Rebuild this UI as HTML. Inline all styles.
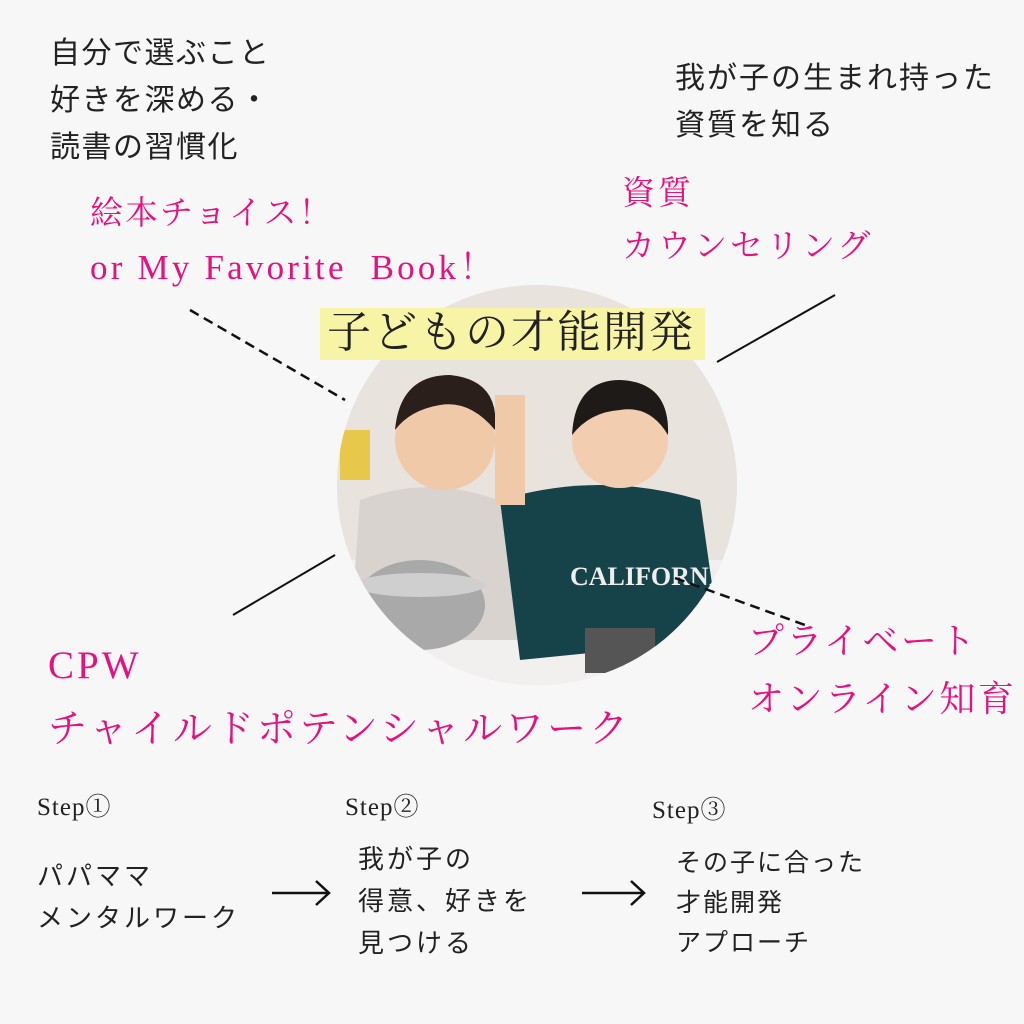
<!DOCTYPE html>
<html><head><meta charset="utf-8"><style>
body{margin:0;width:1024px;height:1024px;background:#f7f7f7;position:relative;overflow:hidden;font-family:"Liberation Sans","Noto Sans CJK JP",sans-serif;color:#222}
.t{position:absolute;white-space:nowrap}
.k{font-size:30px;line-height:47px;color:#222;letter-spacing:1.5px}
.p{color:#e4117f;font-family:"Liberation Serif","Noto Serif CJK SC",serif;font-size:33px;line-height:53px;letter-spacing:2px}
.s{font-family:"Liberation Serif","Noto Serif CJK SC",serif;font-size:25px;color:#222;letter-spacing:1px}
.b{font-size:26px;line-height:42px;color:#222;letter-spacing:3px}
</style></head><body>
<svg width="1024" height="1024" style="position:absolute;left:0;top:0">
<defs><clipPath id="c"><circle cx="537" cy="485" r="200"/></clipPath></defs>
<circle cx="537" cy="485" r="200" fill="#ebe6e0"/>
<g clip-path="url(#c)">
<rect x="330" y="280" width="420" height="420" fill="#e8e3dc"/>
<rect x="330" y="560" width="420" height="140" fill="#f2f0ee"/>
<path d="M360 500 Q440 470 520 510 L530 640 L350 640Z" fill="#d9d3cf"/>
<circle cx="445" cy="440" r="50" fill="#f0c9a8"/>
<path d="M395 430 Q400 375 450 375 Q500 380 495 430 Q470 400 440 405 Q410 410 395 430Z" fill="#2a1f1a"/>
<path d="M500 500 Q600 470 700 500 L720 640 L520 660Z" fill="#16424a"/>
<circle cx="620" cy="440" r="48" fill="#f2cdb0"/>
<path d="M572 435 Q575 380 620 380 Q670 382 668 435 Q650 405 620 410 Q590 412 572 435Z" fill="#1e1a18"/>
<rect x="495" y="395" width="30" height="110" fill="#f0c9a8"/>
<ellipse cx="420" cy="605" rx="65" ry="45" fill="#a9a9a9"/>
<ellipse cx="420" cy="585" rx="65" ry="12" fill="#cfcfcf"/>
<rect x="585" y="628" width="70" height="45" fill="#555"/>
<rect x="340" y="430" width="30" height="50" fill="#e8c84a"/>
<text x="570" y="585" font-family="Liberation Serif" font-size="26" fill="#eee" font-weight="bold">CALIFORNIA</text>
</g>
<line x1="190" y1="310" x2="345" y2="400" stroke="#111" stroke-width="2.5" stroke-dasharray="10,6"/>
<line x1="717" y1="362" x2="835" y2="295" stroke="#111" stroke-width="2"/>
<line x1="233" y1="615" x2="335" y2="555" stroke="#111" stroke-width="2"/>
<line x1="675" y1="578" x2="805" y2="625" stroke="#111" stroke-width="2.5" stroke-dasharray="10,6"/>
<g stroke="#111" stroke-width="2.5" fill="none">
<line x1="272" y1="893" x2="328" y2="893"/><polyline points="316,881 329,893 316,905"/>
<line x1="582" y1="893" x2="643" y2="893"/><polyline points="631,881 644,893 631,905"/>
</g>
</svg>
<div class="t k" style="left:50px;top:30px">自分で選ぶこと<br>好きを深める・<br>読書の習慣化</div>
<div class="t k" style="left:675px;top:55px;letter-spacing:2px">我が子の生まれ持った<br>資質を知る</div>
<div class="t p" style="left:90px;top:188px">絵本チョイス！<br><span style="letter-spacing:3.2px;font-size:35px">or My Favorite&nbsp; Book！</span></div>
<div class="t p" style="left:622px;top:168px;letter-spacing:3px">資質<br>カウンセリング</div>
<div class="t" style="left:320px;top:308px;width:385px;height:52px;background:#f7f4a6"></div>
<div class="t" style="left:327px;top:305px;font-family:'Liberation Serif','Noto Serif CJK SC',serif;font-size:44px;line-height:56px;color:#222;letter-spacing:2px">子どもの才能開発</div>
<div class="t p" style="left:48px;top:634px;font-size:39px;line-height:64px;letter-spacing:3px">CPW<br>チャイルドポテンシャルワーク</div>
<div class="t p" style="left:748px;top:612px;font-size:36px;line-height:58px;letter-spacing:2.5px">プライベート<br>オンライン知育</div>
<div class="t s" style="left:37px;top:787px">Step①</div>
<div class="t s" style="left:345px;top:787px">Step②</div>
<div class="t s" style="left:652px;top:790px">Step③</div>
<div class="t b" style="left:37px;top:855px">パパママ<br>メンタルワーク</div>
<div class="t b" style="left:358px;top:838px">我が子の<br>得意、好きを<br>見つける</div>
<div class="t b" style="left:676px;top:843px;line-height:40px;font-size:25px;letter-spacing:2px">その子に合った<br>才能開発<br>アプローチ</div>
</body></html>
